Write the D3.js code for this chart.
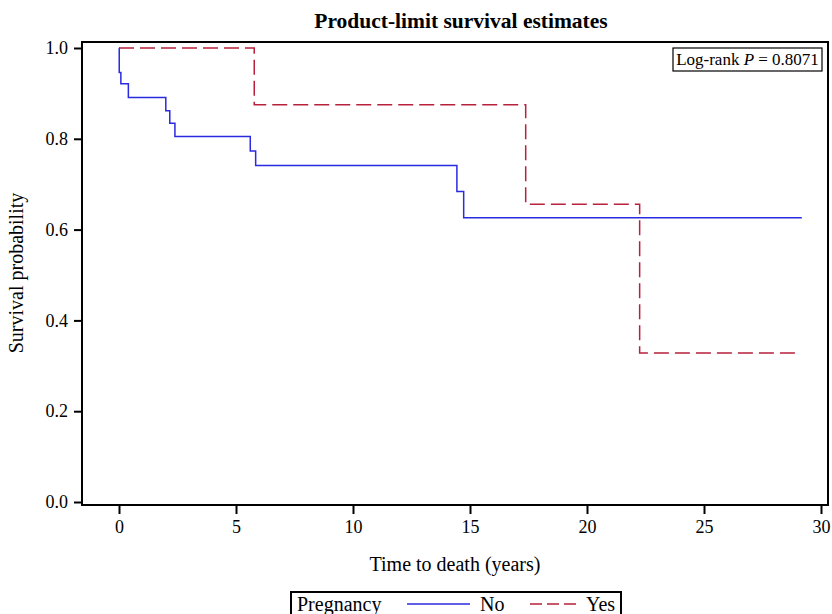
<!DOCTYPE html>
<html>
<head>
<meta charset="utf-8">
<script src="https://cdn.jsdelivr.net/npm/d3@7"></script>
<style>
  body { margin: 0; background: #fff; }
  text { font-family: "Liberation Serif", "Times New Roman", serif; fill: #000; }
</style>
</head>
<body>
<script>
// Kaplan-Meier step data
var noTime = [0, 0.01, 0.08, 0.40, 2.00, 2.17, 2.39, 5.61, 5.84, 14.44, 14.73, 29.18];
var noSurv = [1, 0.946, 0.921, 0.891, 0.862, 0.834, 0.805, 0.773, 0.741, 0.684, 0.626, 0.626];
var yesTime = [0, 5.78, 17.38, 22.25, 28.90];
var yesSurv = [1, 0.875, 0.656, 0.328, 0.328];

var xTicks = [0, 5, 10, 15, 20, 25, 30];
var yTicks = [0, 0.2, 0.4, 0.6, 0.8, 1.0];
var groups = ["No", "Yes"];
var pValue = "0.8071";

var width = 832, height = 614;
var frame = {left: 82, right: 828, top: 42, bottom: 505};

var svg = d3.select("body").append("svg")
    .attr("width", width)
    .attr("height", height);

// scales
var x = d3.scaleLinear().domain([0, 30]).range([119, 821]);
var y = d3.scaleLinear().domain([0, 1]).range([502, 48]);

// title
svg.append("text")
    .attr("x", 461)
    .attr("y", 28)
    .attr("text-anchor", "middle")
    .style("font-size", "21.5px")
    .style("font-weight", "bold")
    .text("Product-limit survival estimates");

// axes
var xAxis = svg.append("g")
    .attr("transform", "translate(0," + frame.bottom + ")")
    .call(d3.axisBottom(x).tickValues(xTicks).tickSize(9).tickPadding(6).tickFormat(d3.format("d")));
xAxis.select(".domain").remove();
xAxis.selectAll(".tick line").attr("stroke", "#000").attr("stroke-width", 2);
xAxis.selectAll(".tick text").style("font-size", "18px").style("font-family", "Liberation Serif");

var yAxis = svg.append("g")
    .attr("transform", "translate(" + frame.left + ",0)")
    .call(d3.axisLeft(y).tickValues(yTicks).tickSize(8).tickPadding(6).tickFormat(d3.format(".1f")));
yAxis.select(".domain").remove();
yAxis.selectAll(".tick line").attr("stroke", "#000").attr("stroke-width", 2);
yAxis.selectAll(".tick text").style("font-size", "18px").style("font-family", "Liberation Serif");

// axis labels
svg.append("text")
    .attr("x", 455)
    .attr("y", 571)
    .attr("text-anchor", "middle")
    .style("font-size", "20px")
    .text("Time to death (years)");

svg.append("text")
    .attr("transform", "translate(23," + 273 + ") rotate(-90)")
    .attr("text-anchor", "middle")
    .style("font-size", "20px")
    .text("Survival probability");

// survival curves
var line = d3.line()
    .x(d => x(d[0]))
    .y(d => y(d[1]))
    .curve(d3.curveStepAfter);

svg.append("path")
    .attr("d", line(d3.zip(noTime, noSurv)))
    .attr("fill", "none")
    .attr("stroke", "#2a2ae0")
    .attr("stroke-width", 1.5);

svg.append("path")
    .attr("d", line(d3.zip(yesTime, yesSurv)))
    .attr("fill", "none")
    .attr("stroke", "#b8203c")
    .attr("stroke-width", 1.5)
    .attr("stroke-dasharray", "15,6");

// plot frame
svg.append("rect")
    .attr("x", frame.left)
    .attr("y", frame.top)
    .attr("width", frame.right - frame.left)
    .attr("height", frame.bottom - frame.top)
    .attr("fill", "none")
    .attr("stroke", "#000")
    .attr("stroke-width", 2);

// log-rank inset
svg.append("rect")
    .attr("x", 673)
    .attr("y", 48)
    .attr("width", 149)
    .attr("height", 23)
    .attr("fill", "#fff")
    .attr("stroke", "#000")
    .attr("stroke-width", 1.2);

var pText = svg.append("text")
    .attr("x", 747.5)
    .attr("y", 65)
    .attr("text-anchor", "middle")
    .style("font-size", "17px");
pText.append("tspan").text("Log-rank ");
pText.append("tspan").style("font-style", "italic").text("P");
pText.append("tspan").text(" = " + pValue);

// legend
var legend = svg.append("g");
legend.append("rect")
    .attr("x", 291)
    .attr("y", 592)
    .attr("width", 330)
    .attr("height", 30)
    .attr("fill", "none")
    .attr("stroke", "#000")
    .attr("stroke-width", 2);

legend.append("text")
    .attr("x", 297)
    .attr("y", 611)
    .style("font-size", "20px")
    .text("Pregnancy");

var legendItems = [
  {x1: 407, x2: 470, tx: 480, color: "#2a2ae0", dash: null},
  {x1: 530, x2: 576, tx: 586, color: "#b8203c", dash: "12,5"}
];

legend.selectAll(".item")
    .data(groups)
    .enter().append("g")
    .attr("class", "item")
    .each(function(g, i) {
        var it = legendItems[i];
        var sel = d3.select(this);
        sel.append("line")
            .attr("x1", it.x1).attr("x2", it.x2)
            .attr("y1", 604).attr("y2", 604)
            .attr("stroke", it.color)
            .attr("stroke-width", 1.5)
            .attr("stroke-dasharray", it.dash);
        sel.append("text")
            .attr("x", it.tx)
            .attr("y", 611)
            .style("font-size", "20px")
            .text(g);
    });
</script>
</body>
</html>
